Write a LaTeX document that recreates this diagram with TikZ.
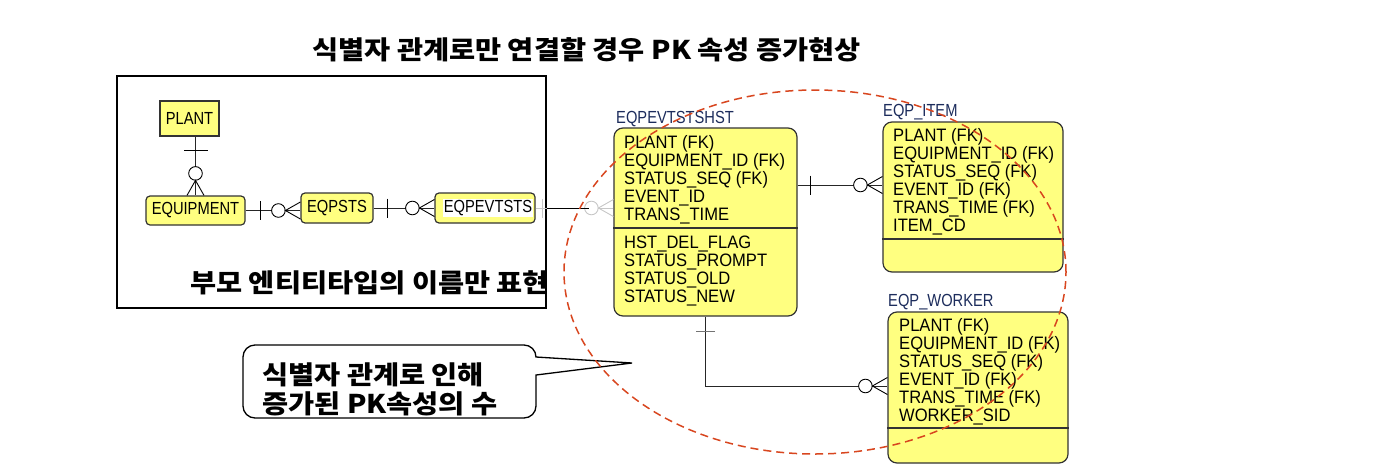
\documentclass[tikz,border=0pt]{standalone}
\usepackage{fontspec}
\setmainfont{Liberation Sans}
\newfontfamily\kor{Noto Sans CJK KR}[FakeStretch=1.1]
\newfontfamily\attrf{Liberation Sans}[FakeStretch=0.92]
\newfontfamily\namef{Liberation Sans}[FakeStretch=0.84]
\usetikzlibrary{calc}
\definecolor{entyel}{HTML}{FFFF80}
\definecolor{edgec}{HTML}{333333}
\definecolor{navy}{HTML}{1C2C5C}
\definecolor{ellred}{HTML}{D8461F}
\tikzset{
  smallent/.style={draw=edgec, line width=1.2pt, fill=entyel, inner sep=0pt,
    font=\namef\fontsize{17.5}{18}\selectfont},
  tablebox/.style={draw=edgec, line width=1.2pt, fill=entyel, inner sep=0pt, rounded corners=9pt},
  attr/.style={font=\attrf\fontsize{18}{18}\selectfont, anchor=base west, inner sep=0pt},
  tname/.style={font=\namef\fontsize{17.5}{18}\selectfont, anchor=base west, inner sep=0pt, text=navy},
  kortext/.style={font=\kor\bfseries\fontsize{25.8}{30}\selectfont, inner sep=0pt},
  rel/.style={draw=black!85, line width=0.9pt},
  pics/onebar/.style={code={\draw[line width=0.9pt] (#1,-9.5) -- (#1,9.5);}},
  pics/widebar/.style={code={\draw[line width=0.9pt] (#1,-12) -- (#1,12);}},
  pics/zeromany/.style={code={
    \draw[line width=0.9pt, fill=white] (22,0) circle[radius=6.8pt];
    \draw[line width=0.9pt] (0,-8.5) -- (15,0) -- (0,8.5);}},
}
\begin{document}
\begin{tikzpicture}[x=1pt,y=-1pt]
\useasboundingbox (0,0) rectangle (1376,474);

% title
\node[kortext] (title) at (586.5,50) {식별자 관계로만 연결할 경우 PK 속성 증가현상};

% left frame
\node[draw=black, line width=1.3pt, minimum width=429pt, minimum height=232pt, inner sep=0pt] (frame) at (331.5,192) {};

% small entities
\node[smallent, minimum width=59pt, minimum height=35pt] (plant) at (189.5,118.5) {PLANT};
\node[smallent, rounded corners=4pt, minimum width=99pt, minimum height=29pt] (equip) at (195.5,210.5) {EQUIPMENT};
\node[smallent, rounded corners=4pt, minimum width=72pt, minimum height=30pt] (eqpsts) at (337,208) {EQPSTS};
\node[smallent, rounded corners=4pt, minimum width=100pt, minimum height=30pt] (eqpev) at (485,208) {};
\node[fill=white, inner sep=1pt, font=\namef\fontsize{17.5}{18}\selectfont] (eqpevname) at (488,208) {EQPEVTSTS};

\node[kortext, anchor=west] (parentnote) at (190,283) {부모 엔티티타입의 이름만 표현};

% tables
\node[tablebox, minimum width=183pt, minimum height=188pt] (hst) at (705.5,222) {};
\node[tname] (hstlabel) at (616,123) {EQPEVTSTSHST};
\draw[edgec, line width=1.1pt] (hst.west |- 0,228) -- (hst.east |- 0,228);
\foreach \t [count=\i] in {PLANT (FK), EQUIPMENT\_ID (FK), STATUS\_SEQ (FK), EVENT\_ID, TRANS\_TIME}
  \node[attr] (hk\i) at (624,{148+18*(\i-1)}) {\t};
\foreach \t [count=\i] in {HST\_DEL\_FLAG, STATUS\_PROMPT, STATUS\_OLD, STATUS\_NEW}
  \node[attr] (ha\i) at (624,{248+18*(\i-1)}) {\t};

\node[tablebox, minimum width=180pt, minimum height=150pt] (item) at (973,197) {};
\node[tname] (itemlabel) at (883,116) {EQP\_ITEM};
\draw[edgec, line width=1.1pt] (item.west |- 0,239) -- (item.east |- 0,239);
\foreach \t [count=\i] in {PLANT (FK), EQUIPMENT\_ID (FK), STATUS\_SEQ (FK), EVENT\_ID (FK), TRANS\_TIME (FK), ITEM\_CD}
  \node[attr] (ik\i) at (893,{141+18*(\i-1)}) {\t};

\node[tablebox, minimum width=180pt, minimum height=151pt] (worker) at (978,387.5) {};
\node[tname] (workerlabel) at (888,306) {EQP\_WORKER};
\draw[edgec, line width=1.1pt] (worker.west |- 0,428) -- (worker.east |- 0,428);
\foreach \t [count=\i] in {PLANT (FK), EQUIPMENT\_ID (FK), STATUS\_SEQ (FK), EVENT\_ID (FK), TRANS\_TIME (FK), WORKER\_SID}
  \node[attr] (wk\i) at (899,{331+18*(\i-1)}) {\t};

% relationships
\draw[rel] (equip.north |- plant.south) -- (equip.north);
\pic[rotate=-90] at (equip.north |- plant.south) {widebar=14};
\pic[rotate=90] at (equip.north) {zeromany};

\draw[rel] (equip.east) -- (equip.east -| eqpsts.west);
\pic at (equip.east) {onebar=15};
\pic[rotate=180] at (equip.east -| eqpsts.west) {zeromany};

\draw[rel] (eqpsts.east) -- (eqpsts.east -| eqpev.west);
\pic at (eqpsts.east) {onebar=14};
\pic[rotate=180] at (eqpsts.east -| eqpev.west) {zeromany};

\draw[rel, draw=black!22] (eqpev.east) -- (eqpev.east -| hst.west);
\pic[color=black!22] at (eqpev.east) {onebar=7};
\pic[rotate=180, color=black!22] at (eqpev.east -| hst.west) {zeromany};
\coordinate (grayend) at ($(eqpev.east -| hst.west)+(-24,0)$);
\draw[rel, draw=black] (frame.east |- eqpev.east) -- (grayend);

\draw[rel] (hst.east |- 0,185) -- (item.west |- 0,185);
\pic at (hst.east |- 0,185) {onebar=13};
\pic[rotate=180] at (item.west |- 0,185) {zeromany};

\draw[rel] (hst.south) |- (worker.west |- 0,386);
\pic[rotate=-90, color=black!55] at (hst.south) {onebar=15};
\pic[rotate=180] at (worker.west |- 0,386) {zeromany};

% callout
\draw[black, line width=1.3pt, fill=white, rounded corners=12pt]
  (536,375) -- (536,418) -- (243,418) -- (243,345) -- (536,345) [sharp corners] -- (536,357) -- (632,363) -- cycle;
\node[kortext, anchor=west] (call1) at (262,375) {식별자 관계로 인해};
\node[kortext, anchor=west] (call2) at (262,404) {증가된 PK속성의 수};

% dashed ellipse
\draw[ellred, dash pattern=on 8pt off 5pt, line width=1.5pt] (815,272) ellipse [x radius=251pt, y radius=182pt];
\end{tikzpicture}
\end{document}
